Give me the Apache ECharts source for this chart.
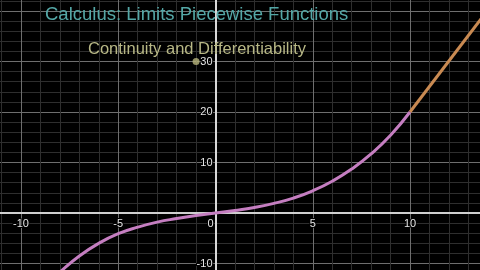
<!DOCTYPE html>
<html>
<head>
<meta charset="utf-8">
<script src="https://cdn.jsdelivr.net/npm/echarts@6/dist/echarts.min.js"></script>
<style>html,body{margin:0;padding:0;background:#000}#c{width:480px;height:270px}</style>
</head>
<body>
<div id="c"></div>
<script>
const titleText = 'Calculus: Limits Piecewise Functions';
const subtitleText = 'Continuity and Differentiability';
const curveX = [-9,-8,-7,-6,-5,-4,-3,-2,-1,0,1,2,3,4,5,6,7,8,9,10];
const curveY = [-15.2,-11.7,-8.5,-6.0,-4.1,-2.8,-1.8,-1.1,-0.5,0,0.5,1.1,1.9,2.95,4.4,6.3,8.7,11.7,15.4,20];
const lineX = [10,14];
const lineY = [20,40.2];
const pointX = [-1];
const pointY = [30];
const xTicks = [-10,-5,0,5,10];
const yTicks = [-10,10,20,30];

const zip = (a,b) => a.map((v,i)=>[v,b[i]]);
const chart = echarts.init(document.getElementById('c'));
const labelStyle = {color:'#e6e6e6', fontSize:11, fontFamily:'Liberation Sans, Arial, sans-serif', textBorderColor:'#000', textBorderWidth:2};
chart.setOption({
  backgroundColor:'#000',
  animation:false,
  title:[
    {text:titleText, left:40, top:0, textStyle:{color:'#54a7a6', fontSize:18.5, fontWeight:'normal', fontFamily:'Liberation Sans, Arial, sans-serif'}},
    {text:subtitleText, left:83, top:36, textStyle:{color:'#b8b886', fontSize:16.5, fontWeight:'normal', fontFamily:'Liberation Sans, Arial, sans-serif'}}
  ],
  grid:{left:-76.25, width:583.5, top:-39.5, height:353.5, containLabel:false, outerBoundsMode:'none'},
  xAxis:{type:'value', min:-15, max:15, interval:5, position:'bottom', offset:-101,
    axisLine:{onZero:false, lineStyle:{color:'#cfcfcf', width:2}},
    axisTick:{show:false},
    splitLine:{show:true, lineStyle:{color:'#6e6e6e', width:1}},
    minorSplitLine:{show:true, lineStyle:{color:'#2e2e2e', width:1}},
    minorTick:{show:false, splitNumber:5},
    axisLabel:Object.assign({}, labelStyle, {margin:5,
      formatter:v => xTicks.includes(Math.round(v)) ? (Math.round(v)===0 ? '{z|0}' : String(Math.round(v))) : '',
      rich:{z:Object.assign({}, labelStyle, {padding:[0,10,0,0]})}})
  },
  yAxis:{type:'value', min:-20, max:50, interval:10, position:'left', offset:-291.75,
    axisLine:{onZero:false, lineStyle:{color:'#d8d8d8', width:2}},
    axisTick:{show:false},
    splitLine:{show:true, lineStyle:{color:'#6e6e6e', width:1}},
    minorSplitLine:{show:true, lineStyle:{color:'#2e2e2e', width:1}},
    minorTick:{show:false, splitNumber:5},
    axisLabel:Object.assign({}, labelStyle, {margin:3,
      formatter:v => yTicks.includes(Math.round(v)) ? String(Math.round(v)) : ''})
  },
  series:[
    {type:'line', data:zip(lineX,lineY), symbol:'none', lineStyle:{color:'#c98a52', width:3}},
    {type:'line', data:zip(curveX,curveY), smooth:true, symbol:'none', lineStyle:{color:'#c57ec1', width:3}},
    {type:'scatter', data:zip(pointX,pointY), symbolSize:7, itemStyle:{color:'#b6b47a'}}
  ]
});
</script>
</body>
</html>
